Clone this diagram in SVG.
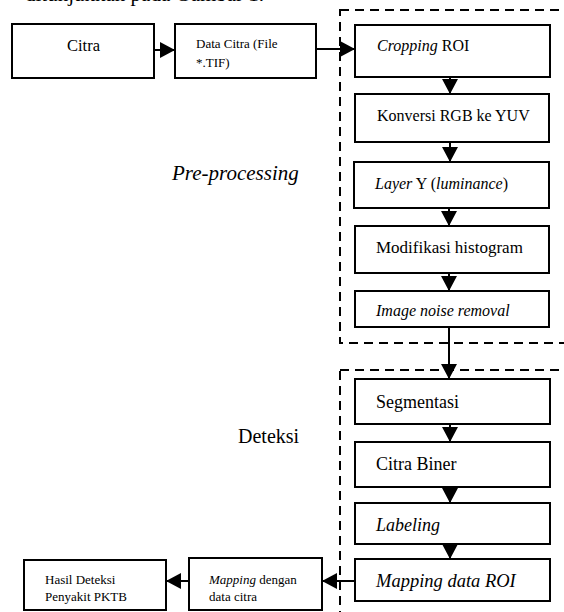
<svg xmlns="http://www.w3.org/2000/svg" width="564" height="612" viewBox="0 0 564 612">
<style>
  .box{fill:#fff;stroke:#000;stroke-width:2}
  .dash{fill:none;stroke:#000;stroke-width:2;stroke-dasharray:9,6}
  .ln{fill:none;stroke:#000;stroke-width:2}
  text{font-family:"Liberation Serif","Times New Roman",serif;fill:#000}
  .t16{font-size:16px}
  .t18{font-size:18px}
  .t13{font-size:13px}
  .it{font-style:italic}
</style>
<defs>
  <marker id="ah" markerUnits="userSpaceOnUse" markerWidth="16" markerHeight="16" viewBox="0 0 16 16" refX="15" refY="8" orient="auto">
    <path d="M0,0 L15,8 L0,16 Z" fill="#000"/>
  </marker>
</defs>
<text x="25" y="1" style="font-size:21px">ditunjukkan pada Gambar 1.</text>

<g id="group-preprocessing">
  <rect class="dash" x="340" y="10" width="240" height="333"/>
  <text x="172" y="180" class="it" style="font-size:21px">Pre-processing</text>
</g>
<g id="group-deteksi">
  <rect class="dash" x="340" y="370" width="240" height="260"/>
  <text x="238" y="443" style="font-size:20px">Deteksi</text>
</g>

<g id="connectors">
  <line class="ln" x1="154" y1="50" x2="175" y2="50" marker-end="url(#ah)"/>
  <line class="ln" x1="316" y1="49" x2="355" y2="49" marker-end="url(#ah)"/>
  <line class="ln" x1="450" y1="77" x2="450" y2="94" marker-end="url(#ah)"/>
  <line class="ln" x1="450" y1="142" x2="450" y2="162" marker-end="url(#ah)"/>
  <line class="ln" x1="449" y1="208" x2="449" y2="226" marker-end="url(#ah)"/>
  <line class="ln" x1="449" y1="273" x2="449" y2="291" marker-end="url(#ah)"/>
  <line class="ln" x1="449" y1="327" x2="449" y2="379" marker-end="url(#ah)"/>
  <line class="ln" x1="450" y1="424" x2="450" y2="442" marker-end="url(#ah)"/>
  <line class="ln" x1="450" y1="487" x2="450" y2="503" marker-end="url(#ah)"/>
  <line class="ln" x1="450" y1="544" x2="450" y2="559" marker-end="url(#ah)"/>
  <line class="ln" x1="355" y1="581" x2="322" y2="581" marker-end="url(#ah)"/>
  <line class="ln" x1="189" y1="581" x2="166" y2="581" marker-end="url(#ah)"/>
</g>

<g id="citra">
  <rect class="box" x="12" y="24" width="142" height="54"/>
  <text x="67" y="51" style="font-size:16.5px">Citra</text>
</g>
<g id="data-citra">
  <rect class="box" x="175" y="24" width="141" height="54"/>
  <text x="196" y="48" class="t13">Data Citra (File</text>
  <text x="196" y="67" class="t13">*.TIF)</text>
</g>
<g id="cropping">
  <rect class="box" x="355" y="25" width="195" height="52"/>
  <text x="377" y="51" class="t16"><tspan class="it">Cropping</tspan> ROI</text>
</g>
<g id="konversi">
  <rect class="box" x="355" y="94" width="194" height="48"/>
  <text x="377" y="121" class="t16">Konversi RGB ke YUV</text>
</g>
<g id="layer-y">
  <rect class="box" x="354" y="162" width="195" height="46"/>
  <text x="375" y="189" class="t16"><tspan class="it">Layer</tspan>  Y (<tspan class="it">luminance</tspan>)</text>
</g>
<g id="modifikasi">
  <rect class="box" x="355" y="226" width="194" height="47"/>
  <text x="376" y="253" style="font-size:17px">Modifikasi histogram</text>
</g>
<g id="noise">
  <rect class="box" x="355" y="291" width="194" height="36"/>
  <text x="376" y="316" class="t16 it">Image noise removal</text>
</g>
<g id="segmentasi">
  <rect class="box" x="355" y="379" width="195" height="45"/>
  <text x="376" y="408" class="t18">Segmentasi</text>
</g>
<g id="citra-biner">
  <rect class="box" x="355" y="442" width="195" height="45"/>
  <text x="376" y="470" class="t18">Citra Biner</text>
</g>
<g id="labeling">
  <rect class="box" x="355" y="503" width="195" height="41"/>
  <text x="376" y="531" class="t18 it">Labeling</text>
</g>
<g id="mapping-roi">
  <rect class="box" x="355" y="559" width="195" height="42"/>
  <text x="376" y="587" class="it" style="font-size:18.5px">Mapping  data ROI</text>
</g>
<g id="mapping-citra">
  <rect class="box" x="189" y="558" width="133" height="52"/>
  <text x="209" y="584" class="t13"><tspan class="it">Mapping</tspan> dengan</text>
  <text x="209" y="601" class="t13">data citra</text>
</g>
<g id="hasil">
  <rect class="box" x="24" y="560" width="142" height="50"/>
  <text x="45" y="584" class="t13">Hasil Deteksi</text>
  <text x="45" y="601" class="t13">Penyakit PKTB</text>
</g>
</svg>
